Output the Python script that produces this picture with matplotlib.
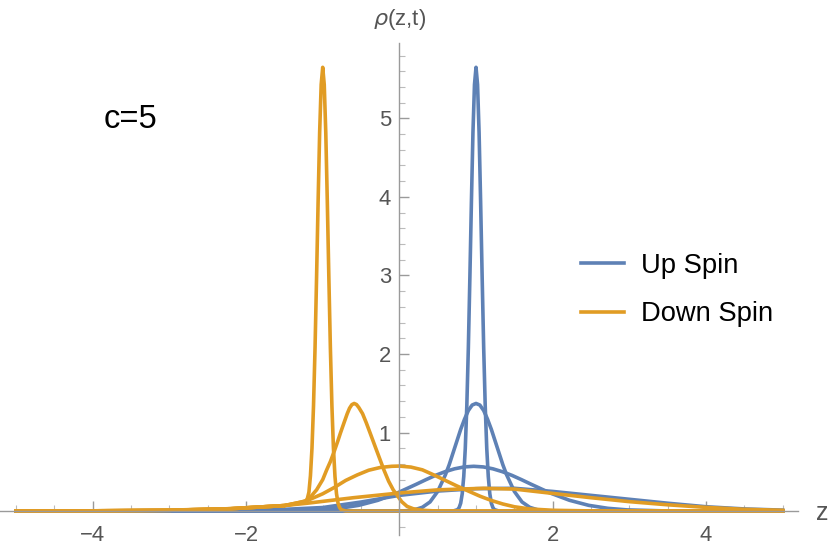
import matplotlib.pyplot as plt
from matplotlib.ticker import MultipleLocator, FixedLocator

plt.rcParams['font.family'] = ['Liberation Sans', 'DejaVu Sans']

blue = '#5E81B5'
orange = '#E19C24'

# spin up, narrow packet at t=0
up0_z = [-5.0, 0.70, 0.76, 0.78, 0.80, 0.82, 0.84, 0.86, 0.88, 0.90, 0.92, 0.94, 0.96, 0.98, 1.00,
         1.02, 1.04, 1.06, 1.08, 1.10, 1.12, 1.14, 1.16, 1.18, 1.20, 1.22, 1.24, 1.30, 5.0]
up0_rho = [0.0, 0.0, 0.018, 0.045, 0.10, 0.22, 0.44, 0.80, 1.34, 2.08, 2.98, 3.94, 4.82, 5.43, 5.65,
           5.43, 4.82, 3.94, 2.98, 2.08, 1.34, 0.80, 0.44, 0.22, 0.10, 0.045, 0.018, 0.0, 0.0]

up1_z = [-5.0, 0.0, 0.1, 0.2, 0.3, 0.4, 0.5, 0.6, 0.65, 0.7, 0.75, 0.8, 0.85, 0.9, 0.95, 1.0,
         1.05, 1.1, 1.15, 1.2, 1.25, 1.3, 1.35, 1.4, 1.5, 1.6, 1.7, 1.8, 1.9, 2.0, 5.0]
up1_rho = [0.0, 0.0, 0.005, 0.017, 0.048, 0.116, 0.25, 0.46, 0.59, 0.74, 0.89, 1.04, 1.17, 1.28, 1.35, 1.37,
           1.35, 1.28, 1.17, 1.04, 0.89, 0.74, 0.59, 0.46, 0.25, 0.116, 0.048, 0.017, 0.005, 0.0, 0.0]

up2_z = [-5.0, -2.03, -1.53, -1.03, -0.78, -0.53, -0.28, -0.03, 0.22, 0.345, 0.47, 0.595, 0.72, 0.845, 0.97,
         1.095, 1.22, 1.345, 1.47, 1.595, 1.72, 1.97, 2.22, 2.47, 2.72, 2.97, 3.47, 3.97, 5.0]
up2_rho = [0.0, 0.0, 0.002, 0.015, 0.035, 0.073, 0.137, 0.229, 0.341, 0.399, 0.454, 0.501, 0.538, 0.562, 0.570,
           0.562, 0.538, 0.501, 0.454, 0.399, 0.341, 0.229, 0.137, 0.073, 0.035, 0.015, 0.002, 0.0, 0.0]

up3_z = [-5.0, -4.0, -3.0, -2.0, -1.5, -1.0, -0.5, 0.0, 0.5, 1.0, 1.5, 2.0, 2.5, 3.0, 3.5, 4.0, 4.5, 5.0]
up3_rho = [0.0, 0.002, 0.006, 0.015, 0.022, 0.045, 0.115, 0.20, 0.255, 0.285, 0.29, 0.25, 0.20, 0.15,
           0.10, 0.055, 0.027, 0.012]

# spin down
dn0_z = [-5.0, -4.0, -3.0, -2.2, -1.5, -1.3, -1.22, -1.20, -1.18, -1.16, -1.14, -1.12, -1.10, -1.08, -1.06,
         -1.04, -1.02, -1.00, -0.98, -0.96, -0.94, -0.92, -0.90, -0.88, -0.86, -0.84, -0.82, -0.80,
         -0.78, -0.76, -0.70, 5.0]
dn0_rho = [0.0, 0.003, 0.01, 0.03, 0.07, 0.11, 0.13, 0.16, 0.24, 0.45, 0.80, 1.34, 2.08, 2.98, 3.94,
           4.82, 5.43, 5.65, 5.43, 4.82, 3.94, 2.98, 2.08, 1.34, 0.80, 0.44, 0.22, 0.10,
           0.045, 0.018, 0.0, 0.0]

dn1_z = [-5.0, -4.0, -3.0, -2.2, -1.5, -1.3, -1.21, -1.15, -1.08, -1.0, -0.95, -0.9, -0.85, -0.8, -0.77,
         -0.72, -0.68, -0.65, -0.62, -0.59, -0.56, -0.53, -0.48, -0.43, -0.38, -0.3, -0.2, -0.14, -0.08, 0.03,
         0.1, 0.18, 0.3, 0.5, 5.0]
dn1_rho = [0.0, 0.003, 0.01, 0.03, 0.07, 0.10, 0.13, 0.19, 0.27, 0.40, 0.52, 0.63, 0.76, 0.90, 0.99,
           1.13, 1.24, 1.31, 1.355, 1.37, 1.357, 1.32, 1.24, 1.12, 0.99, 0.78, 0.52, 0.38, 0.27, 0.12,
           0.06, 0.03, 0.01, 0.0, 0.0]

dn2_z = [-5.0, -4.0, -3.0, -2.2, -1.5, -1.21, -1.0, -0.85, -0.7, -0.55, -0.4, -0.25, -0.1, 0.0,
         0.15, 0.3, 0.45, 0.6, 0.75, 0.9, 1.05, 1.2, 1.35, 1.5, 1.7, 2.0, 2.5, 3.0, 5.0]
dn2_rho = [0.0, 0.003, 0.01, 0.03, 0.07, 0.13, 0.22, 0.30, 0.39, 0.46, 0.52, 0.555, 0.57, 0.573,
           0.56, 0.525, 0.46, 0.39, 0.32, 0.255, 0.19, 0.135, 0.09, 0.055, 0.027, 0.01, 0.002, 0.0, 0.0]

dn3_z = [-5.0, -4.0, -3.0, -2.2, -1.5, -1.2, -0.6, 0.0, 0.5, 1.1, 1.5, 2.0, 2.5, 3.0, 3.5, 4.0, 4.5, 5.0]
dn3_rho = [0.0, 0.003, 0.012, 0.03, 0.07, 0.10, 0.17, 0.23, 0.27, 0.29, 0.28, 0.225, 0.17, 0.12,
           0.08, 0.047, 0.022, 0.01]

fig = plt.figure(figsize=(8.3, 5.51), dpi=100)
ax = fig.add_axes([0.0, 0.029, 0.9614, 0.893])

lw = 2.6
ax.plot(up0_z, up0_rho, color=blue, lw=lw, label='Up Spin')
ax.plot(up1_z, up1_rho, color=blue, lw=lw)
ax.plot(up2_z, up2_rho, color=blue, lw=lw)
ax.plot(up3_z, up3_rho, color=blue, lw=lw)
ax.plot(dn0_z, dn0_rho, color=orange, lw=lw, label='Down Spin')
ax.plot(dn1_z, dn1_rho, color=orange, lw=lw)
ax.plot(dn2_z, dn2_rho, color=orange, lw=lw)
ax.plot(dn3_z, dn3_rho, color=orange, lw=lw)

ax.set_xlim(-5.21, 5.2)
ax.set_ylim(-0.305, 5.96)

axis_col = '#9a9a9a'
for s in ['top', 'right']:
    ax.spines[s].set_visible(False)
ax.spines['left'].set_position(('data', 0))
ax.spines['bottom'].set_position(('data', 0))
for s in ['left', 'bottom']:
    ax.spines[s].set_color(axis_col)
    ax.spines[s].set_linewidth(1.0)

ax.xaxis.set_major_locator(FixedLocator([-4, -2, 2, 4]))
ax.xaxis.set_minor_locator(MultipleLocator(0.5))
ax.yaxis.set_major_locator(FixedLocator([1, 2, 3, 4, 5]))
ax.yaxis.set_minor_locator(MultipleLocator(0.2))
ax.set_xticklabels(['\u22124', '\u22122', '2', '4'])
ax.tick_params(axis='both', which='major', direction='in', length=7, width=1.0,
               color=axis_col, labelcolor='#555555', labelsize=15.8)
ax.tick_params(axis='both', which='minor', direction='in', length=4, width=0.8, color='#bbbbbb')
ax.tick_params(axis='x', which='major', pad=10)
ax.tick_params(axis='y', which='major', pad=6)

fig.text(816 / 830, 1 - 513 / 551, 'z', fontsize=18, color='#555555', ha='left', va='center')
fig.text(400 / 830, 1 - 19 / 551, r'$\rho$(z,t)', fontsize=16, color='#555555', ha='center', va='center')
fig.text(104 / 830, 1 - 120 / 551, 'c=5', fontsize=23.5, color='black', ha='left', va='center')

ax.legend(loc='center left', bbox_to_anchor=(581 / 830, 1 - 290 / 551), bbox_transform=fig.transFigure,
          frameon=False, fontsize=19.7, handlelength=1.58, handletextpad=0.61, labelspacing=0.82,
          borderpad=0, borderaxespad=0)

fig.savefig('out.png', dpi=100)
